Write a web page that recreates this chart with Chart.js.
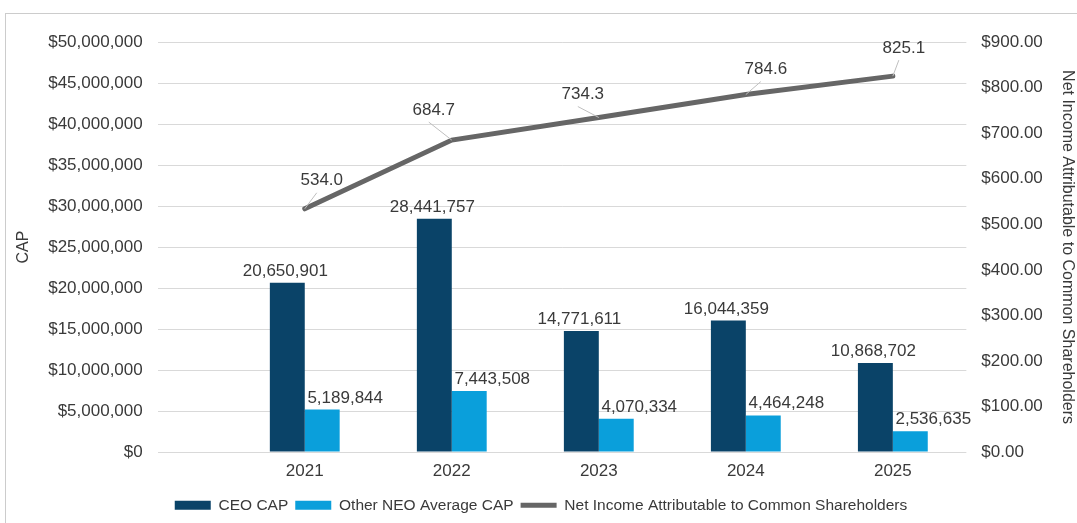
<!DOCTYPE html>
<html>
<head>
<meta charset="utf-8">
<script src="https://cdn.jsdelivr.net/npm/chart.js@4/dist/chart.umd.min.js"></script>
<style>
  body { margin: 0; background: #fff; }
  canvas { display: block; }
</style>
</head>
<body>
<canvas id="myChart" width="1077" height="523"></canvas>
<script>
const years = ['2021', '2022', '2023', '2024', '2025'];
const ceoCap = [20650901, 28441757, 14771611, 16044359, 10868702];
const neoCap = [5189844, 7443508, 4070334, 4464248, 2536635];
const netIncome = [534.0, 684.7, 734.3, 784.6, 825.1];
const leftTicks = { min: 0, max: 50000000, step: 5000000 };
const rightTicks = { min: 0, max: 900, step: 100 };

const textColor = '#3a3a3a';
Chart.defaults.font.family = '"Liberation Sans", Arial, sans-serif';
Chart.defaults.color = textColor;

// nudges for the line labels, like the manually placed labels in the source
const lineLabelShift = [[17, -28], [-18, -30], [-16, -23], [20, -25], [11, -28]];

const frame = {
  id: 'frame',
  beforeDraw(chart) {
    const ctx = chart.ctx;
    ctx.save();
    ctx.strokeStyle = '#cccccc';
    ctx.lineWidth = 1;
    ctx.strokeRect(5.5, 13.5, 1200, 600);
    ctx.restore();
  }
};

const valueLabels = {
  id: 'valueLabels',
  afterDatasetsDraw(chart) {
    const ctx = chart.ctx;
    ctx.save();
    ctx.font = '17px "Liberation Sans", Arial, sans-serif';
    ctx.fillStyle = textColor;
    ctx.textAlign = 'center';
    ctx.textBaseline = 'alphabetic';
    [ceoCap, neoCap].forEach((vals, di) => {
      chart.getDatasetMeta(di).data.forEach((bar, i) => {
        const dx = di === 1 ? 23 : -2;
        ctx.fillText(vals[i].toLocaleString('en-US'), bar.x + dx, bar.y - 7);
      });
    });
    ctx.textBaseline = 'middle';
    chart.getDatasetMeta(2).data.forEach((pt, i) => {
      const cx = pt.x + lineLabelShift[i][0];
      const cy = pt.y + lineLabelShift[i][1];
      ctx.strokeStyle = '#bfbfbf';
      ctx.lineWidth = 1;
      ctx.beginPath();
      ctx.moveTo(pt.x, pt.y);
      ctx.lineTo(cx - 5, cy + 12);
      ctx.stroke();
      ctx.fillText(netIncome[i].toFixed(1), cx, cy);
    });
    ctx.restore();
  }
};

const toPoints = vals => vals.map((v, i) => ({ x: i + 1, y: v }));

let ctx = document.getElementById('myChart').getContext('2d');
let chart = new Chart(ctx, {
  type: 'bar',
  data: {
    datasets: [
      {
        label: 'CEO CAP',
        data: toPoints(ceoCap),
        backgroundColor: '#0a4368',
        yAxisID: 'y',
        categoryPercentage: 0.475,
        barPercentage: 1,
        order: 1
      },
      {
        label: 'Other NEO Average CAP',
        data: toPoints(neoCap),
        backgroundColor: '#0a9fdb',
        yAxisID: 'y',
        categoryPercentage: 0.475,
        barPercentage: 1,
        order: 1
      },
      {
        type: 'line',
        label: 'Net Income Attributable to Common Shareholders',
        data: toPoints(netIncome),
        borderColor: '#666666',
        backgroundColor: '#666666',
        borderWidth: 5,
        pointRadius: 0,
        borderCapStyle: 'round',
        yAxisID: 'y1',
        order: 0
      }
    ]
  },
  options: {
    responsive: false,
    animation: false,
    layout: { padding: { left: 5, right: 0, top: 42, bottom: 0 } },
    scales: {
      x: {
        type: 'linear',
        min: 0,
        max: years.length + 0.5,
        offset: false,
        grid: { display: false, drawTicks: false, offset: false },
        border: { display: false },
        ticks: {
          stepSize: 1,
          includeBounds: false,
          autoSkip: false,
          maxRotation: 0,
          padding: 9,
          font: { size: 17 },
          callback: v => (Number.isInteger(v) && v >= 1 && v <= years.length ? years[v - 1] : '')
        }
      },
      y: {
        position: 'left',
        min: leftTicks.min,
        max: leftTicks.max,
        grid: { color: '#d9d9d9', drawTicks: false },
        border: { display: false },
        ticks: {
          stepSize: leftTicks.step,
          padding: 15,
          font: { size: 17 },
          callback: v => '$' + v.toLocaleString('en-US')
        },
        title: {
          display: true,
          text: 'CAP',
          font: { size: 16 },
          padding: { top: 9, bottom: 0 }
        }
      },
      y1: {
        position: 'right',
        min: rightTicks.min,
        max: rightTicks.max,
        grid: { display: false, drawTicks: false },
        border: { display: false },
        ticks: {
          stepSize: rightTicks.step,
          padding: 15,
          font: { size: 17 },
          callback: v => '$' + v.toFixed(2)
        },
        title: {
          display: true,
          text: 'Net Income Attributable to Common Shareholders',
          font: { size: 16 },
          padding: { top: 0, bottom: 0 }
        }
      }
    },
    plugins: {
      tooltip: { enabled: false },
      legend: {
        position: 'bottom',
        labels: {
          usePointStyle: true,
          pointStyleWidth: 36,
          boxHeight: 9,
          padding: 7,
          font: { size: 15.5 },
          generateLabels: c => c.data.datasets.map((ds, i) => ({
            text: ds.label,
            fillStyle: ds.type === 'line' ? ds.borderColor : ds.backgroundColor,
            strokeStyle: ds.type === 'line' ? ds.borderColor : ds.backgroundColor,
            lineWidth: ds.type === 'line' ? 5 : 0,
            pointStyle: ds.type === 'line' ? 'line' : 'rect',
            fontColor: textColor,
            hidden: false,
            datasetIndex: i
          }))
        }
      }
    }
  },
  plugins: [frame, valueLabels]
});
</script>
</body>
</html>
